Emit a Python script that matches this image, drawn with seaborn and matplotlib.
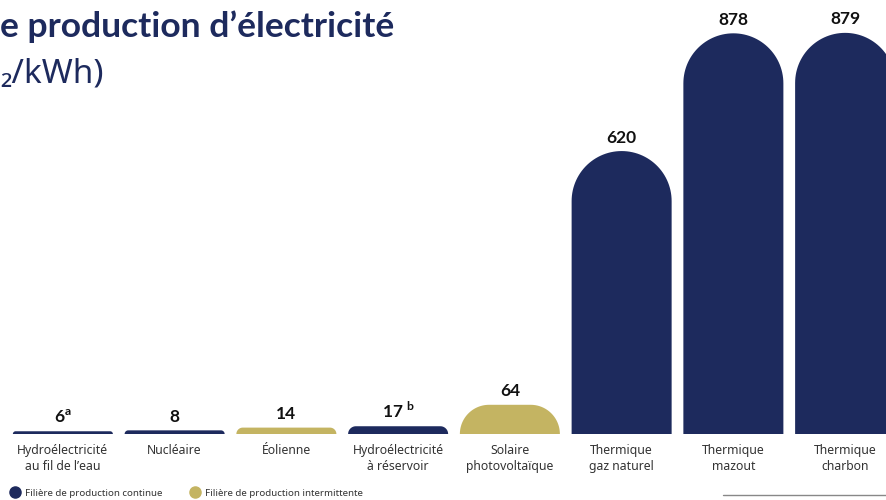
import numpy as np
import pandas as pd
import seaborn as sns
import matplotlib.pyplot as plt
from matplotlib.path import Path
from matplotlib.patches import PathPatch
from matplotlib.lines import Line2D

# donnees (g CO2/kWh)
filieres = ["Hydroélectricité\nau fil de l’eau", "Nucléaire", "Éolienne",
            "Hydroélectricité\nà réservoir", "Solaire\nphotovoltaïque",
            "Thermique\ngaz naturel", "Thermique\nmazout", "Thermique\ncharbon"]
emissions = [6, 8, 14, 17, 64, 620, 878, 879]
etiquettes = ["6$^{\\mathregular{a}}$", "8", "14", "17 $^{\\mathregular{b}}$", "64", "620", "878", "879"]
type_filiere = ["continue", "continue", "intermittente", "continue", "intermittente",
                "continue", "continue", "continue"]

bleu = "#1d2a5d"
or_ = "#c4b462"
palette = {"continue": bleu, "intermittente": or_}

df = pd.DataFrame({"filiere": filieres, "emission": emissions, "type": type_filiere})

sns.set_style("white")
plt.rcParams["font.family"] = ["Noto Sans", "DejaVu Sans"]
gras = ["Lato", "DejaVu Sans"]

fig = plt.figure(figsize=(8.86, 5), dpi=100)
W, H = 886, 500
ax = fig.add_axes([7 / W, 66 / H, 894 / W, 434 / H])

sns.barplot(data=df, x="filiere", y="emission", hue="type", palette=palette,
            dodge=False, width=0.895, saturation=1, legend=False, ax=ax)
ax.set_ylim(0, 951)
ax.set_xlim(-0.5, 7.5)

# pixels par unite
px_x = 894 / 8.0
px_y = 434 / 951.0

# remplacer les barres par des barres a sommet arrondi
for p in list(ax.patches):
    x0 = p.get_x()
    w = p.get_width()
    h = p.get_height()
    if h <= 0:
        continue
    col = p.get_facecolor()
    p.set_visible(False)
    r_px = min(w * px_x / 2, h * px_y)
    rx = r_px / px_x
    ry = r_px / px_y
    x1 = x0 + w
    t = np.linspace(0, np.pi / 2, 30)
    verts = [(x0, 0), (x1, 0), (x1, h - ry)]
    # coin droit
    for a in t:
        verts.append((x1 - rx + rx * np.cos(a), h - ry + ry * np.sin(a)))
    # coin gauche
    for a in t:
        verts.append((x0 + rx - rx * np.sin(a), h - ry + ry * np.cos(a)))
    verts.append((x0, 0))
    codes = [Path.MOVETO] + [Path.LINETO] * (len(verts) - 2) + [Path.CLOSEPOLY]
    ax.add_patch(PathPatch(Path(verts, codes), facecolor=col, edgecolor="none"))

for i, (v, lab) in enumerate(zip(emissions, etiquettes)):
    ax.text(i, v + 12, lab, ha="center", va="bottom", fontsize=12.5,
            fontweight="bold", family=gras, color="#111111")

ax.set_xticks(range(len(filieres)))
ax.set_xticklabels(filieres, fontsize=8.8, color="#333333", linespacing=1.35)
ax.tick_params(axis="x", length=0, pad=7)
ax.set_yticks([])
ax.set_xlabel("")
ax.set_ylabel("")
sns.despine(ax=ax, left=True, bottom=True)

# titre (partie visible)
fig.text(0, 1 - 27 / H, "e production d’électricité",
         ha="left", va="center", fontsize=25.5, fontweight="bold", family=gras, color=bleu)
fig.text(0, 1 - 74 / H, "₂/kWh)", ha="left", va="center",
         fontsize=24, color=bleu)

# legende
poignees = [Line2D([], [], marker="o", linestyle="", markersize=8, color=bleu),
            Line2D([], [], marker="o", linestyle="", markersize=8, color=or_)]
fig.legend(poignees, ["Filière de production continue", "Filière de production intermittente"],
           loc="center left", bbox_to_anchor=(10 / W, 1 - 493 / H), ncol=2, frameon=False,
           fontsize=7, handletextpad=0.5, columnspacing=2.9, borderaxespad=0, borderpad=0,
           handlelength=1.0, labelcolor="#333333")

fig.add_artist(Line2D([723 / W, 1], [1 - 495 / H, 1 - 495 / H], color="#888888", linewidth=1))

fig.savefig("out.png", dpi=100)
